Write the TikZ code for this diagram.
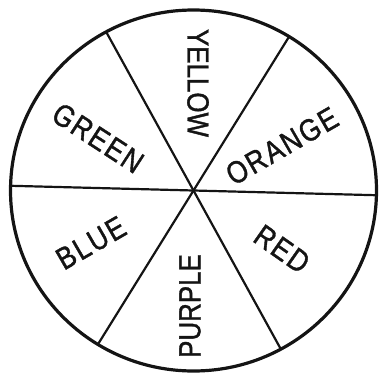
\documentclass[tikz,border=0pt]{standalone}
\usepackage{fontspec}
\setmainfont{Liberation Sans}[FakeStretch=0.85,FakeBold=1.2]
\newfontfamily\spacedface{Liberation Sans}[FakeStretch=0.85,FakeBold=1.2,LetterSpace=6]
\usepackage{tikz}
\usetikzlibrary{calc}
\definecolor{ink}{HTML}{141414}
\tikzset{
  % --- wheel
  rim/.style    = {draw=ink, line width=3.2pt},
  spoke/.style  = {draw=ink, line width=2.2pt},
  % --- labels
  hue/.style    = {text=ink, inner sep=0pt, font=\fontsize{30.5}{32}\selectfont},
  slanted/.style= {hue, font=\fontsize{31}{32}\spacedface},
}
\begin{document}
\begin{tikzpicture}[x=1pt,y=1pt]
  \useasboundingbox (0,0) rectangle (379,373);
  \coordinate (c) at (193.5,182.5);

  \draw[rim] (c) ellipse [x radius=183, y radius=180.5];
  \foreach \a in {-1.5,58.5,118.5} {
    \draw[spoke] ($(c)+(\a:183 and 180.5)$) -- ($(c)+(\a+180:183 and 180.5)$);
  }

  \node[hue, rotate=-90]     (yellow) at (198,290) {YELLOW};
  \node[slanted, rotate=30]  (orange) at (282,227) {ORANGE};
  \node[slanted, rotate=-35] (red)    at (282,124) {RED};
  \node[hue, rotate=90]      (purple) at (190,67)  {PURPLE};
  \node[slanted, rotate=30]  (blue)   at (91,130)  {BLUE};
  \node[slanted, rotate=-33] (green)  at (98,235)  {GREEN};
\end{tikzpicture}
\end{document}
